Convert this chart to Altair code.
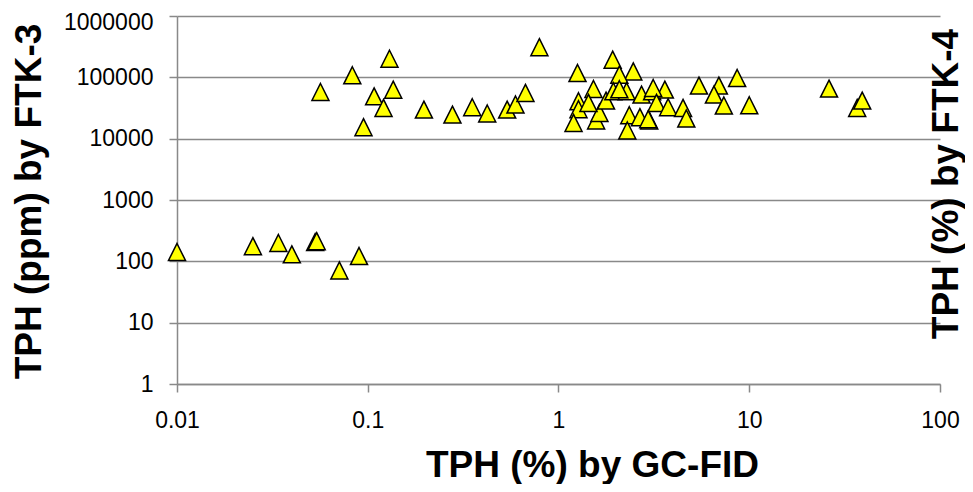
import altair as alt
import pandas as pd

# TPH (%) by GC-FID (x) and TPH (ppm) by FTK-3 (y)
GC_FID = [
    0.010, 0.025, 0.034, 0.040, 0.053, 0.054, 0.071, 0.090,
    0.0565, 0.083, 0.095, 0.108, 0.121, 0.130, 0.136, 0.197, 0.278, 0.353,
    0.423, 0.538, 0.595, 0.671, 0.794,
    1.258, 1.923, 2.466, 2.084, 1.525, 1.273, 1.273, 1.199, 1.575, 1.639,
    1.775, 1.939, 2.275, 2.084, 2.724, 3.097, 2.350, 2.672, 2.990, 2.295,
    1.436, 3.610, 3.136, 3.264, 3.756, 4.497, 4.678, 2.953, 5.450, 6.930,
    6.530, 7.360, 8.640, 10.0, 26.2, 36.8, 39.1,
]
FTK3 = [
    142, 177, 199, 130, 206, 213, 71, 122,
    57700, 108000, 15400, 49000, 31700, 201000, 63000, 29800, 24700, 32500,
    25700, 29800, 36000, 55600, 311000,
    117500, 194000, 125000, 110600, 64500, 40700, 30200, 18100, 19800, 26300,
    41800, 59200, 59200, 63800, 52300, 59200, 24100, 22400, 19800, 13600,
    38200, 63100, 67000, 38200, 32500, 31700, 21300, 20800, 73300, 73300,
    52300, 34700, 97400, 35000, 65500, 31700, 41800,
]

X_TICKS = [0.01, 0.1, 1, 10, 100]
Y_TICKS = [1, 10, 100, 1000, 10000, 100000, 1000000]
X_TITLE = "TPH (%) by GC-FID"
Y_TITLE = "TPH (ppm) by FTK-3"
Y2_TITLE = ["TPH (%) by FTK-4"]

df = pd.DataFrame({"gc": GC_FID, "ftk": FTK3})

GRAY = "#898989"
FONT = "Liberation Sans"
TRI = "M0,-1L1,1L-1,1Z"

points = alt.Chart(df).mark_point(
    shape=TRI, filled=True, fill="#FFFF00", stroke="#000000",
    strokeWidth=1.5, size=290, opacity=1,
).encode(
    x=alt.X(
        "gc:Q",
        scale=alt.Scale(type="log", domain=[0.01, 100], nice=False),
        axis=alt.Axis(
            values=X_TICKS, format="~g", grid=False, title=X_TITLE,
            labelFlush=False, labelOverlap=False, labelPadding=17,
            labelFontSize=23,
            titleX=415, titleY=92, titleAlign="center",
            titleBaseline="alphabetic",
        ),
    ),
    y=alt.Y(
        "ftk:Q",
        scale=alt.Scale(type="log", domain=[1, 1000000], nice=False),
        axis=alt.Axis(
            values=Y_TICKS, format="d", grid=True, title=Y_TITLE,
            labelFlush=False, labelOverlap=False, labelPadding=16,
            labelFontSize=23,
            labelOffset={"condition": {"test": "datum.value >= 1000000", "value": 6}, "value": 0},
            titleX=-137, titleY=185, titleAlign="center", titleAngle=270,
            titleBaseline="alphabetic",
        ),
    ),
)

right_title = alt.Chart(pd.DataFrame({"t": Y2_TITLE})).mark_text(
    angle=270, font=FONT, fontSize=37, fontWeight="bold", color="#000000",
    align="center", baseline="alphabetic",
).encode(
    text="t:N",
    x=alt.value(781),
    y=alt.value(168),
)

chart = alt.layer(points, right_title).properties(
    width=763,
    height=368,
    autosize=alt.AutoSizeParams(type="none"),
    padding={"left": 169, "top": 8, "right": 25, "bottom": 100},
).configure_view(
    stroke=None,
).configure_axis(
    labelFont=FONT, labelColor="#000000",
    titleFont=FONT, titleFontSize=37, titleFontWeight="bold", titleColor="#000000",
    domainColor=GRAY, domainWidth=1.5,
    tickColor=GRAY, tickWidth=1.5, tickSize=8,
    gridColor=GRAY, gridWidth=1.4,
)

chart.save("out.html", embed_options={"renderer": "svg", "actions": False})
